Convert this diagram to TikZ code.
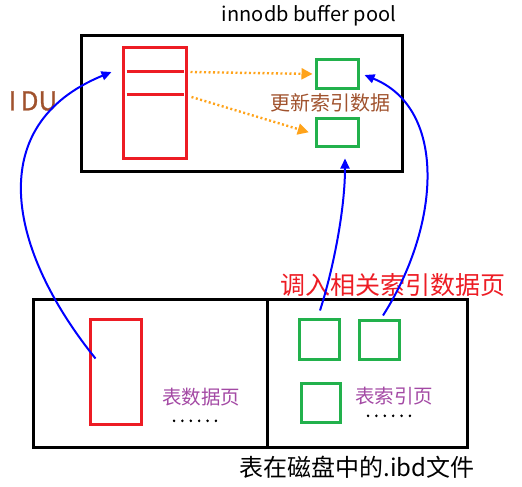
\documentclass[tikz,border=0pt]{standalone}
\usepackage{fontspec}
\setmainfont{Noto Sans CJK SC}
\usetikzlibrary{calc,arrows.meta,positioning}
\definecolor{pagered}{HTML}{ED1C24}
\definecolor{idxgreen}{HTML}{22B14C}
\definecolor{loadblue}{HTML}{0000FF}
\definecolor{updorange}{HTML}{FFA31A}
\definecolor{notebrown}{HTML}{A0522D}
\definecolor{pagepurple}{HTML}{A349A4}
\newcommand{\fsz}[1]{\fontsize{#1}{#1}\selectfont}

\begin{document}
\begin{tikzpicture}[x=1pt,y=-1pt]
\tikzstyle{every node}+=[inner sep=0pt]
\tikzstyle{area}=[draw=black, line width=3pt]
\tikzstyle{datapage}=[draw=pagered, line width=3pt]
\tikzstyle{idxpage}=[draw=idxgreen, line width=3pt]
\tikzstyle{load}=[draw=loadblue, line width=2pt, -{Triangle[length=10pt,width=9pt]}]
\tikzstyle{upd}=[draw=updorange, line width=2.4pt, dash pattern=on 2pt off 2.5pt, -{Triangle[length=11pt,width=11pt]}]
\tikzstyle{more}=[anchor=base, font={\fsz{12}\addfontfeatures{FakeBold=7,LetterSpace=42}}]
    \useasboundingbox (0,0) rectangle (522,487);
    \node [area, minimum width=321pt, minimum height=135pt] (pool) at (241.5,103.5) {};
    \node (poolname) at (309,16) {\fsz{20}innodb buffer pool};
    \node [datapage, minimum width=63pt, minimum height=110pt] (rec) at (154.5,103) {};
    \draw [pagered, line width=3pt] ([shift={(5,25)}]rec.north west) -- ([shift={(-4,25)}]rec.north east);
    \draw [pagered, line width=3pt] ([shift={(5,48)}]rec.north west) -- ([shift={(-4,48)}]rec.north east);
    \node [idxpage, minimum width=42pt, minimum height=28pt] (idxa) at (337,74) {};
    \node [idxpage, minimum width=42pt, minimum height=28pt] (idxb) at (337,132) {};
    \draw [upd, shorten >=2pt] ([shift={(3,-31)}]rec.east) -- (idxa.west);
    \draw [upd, shorten >=6pt] ([shift={(4,-6)}]rec.east) -- ([yshift=-2pt]idxb.west);
    \node [text=notebrown] (updnote) at (330,103) {\fsz{20}更新索引数据};
    \node [text=notebrown] (idu) at (33,101) {\fsz{26}\addfontfeatures{FakeBold=1}I\,DU};
    \node [area, minimum width=234pt, minimum height=148pt] (datapart) at (150,373) {};
    \node [area, minimum width=200pt, minimum height=148pt] (idxpart) at (367,373) {};
    \node [datapage, minimum width=51pt, minimum height=105pt] (drec) at (115.5,371.5) {};
    \node [idxpage, minimum width=40pt, minimum height=40pt] (ga) at (319.5,339) {};
    \node [idxpage, minimum width=40pt, minimum height=39pt] (gb) at (379,339.5) {};
    \node [idxpage, minimum width=39pt, minimum height=39pt] (gc) at (320.5,403) {};
    \node [text=pagepurple] (datanote) at (201,397) {\fsz{19.5}表数据页};
    \node [more] (datadots) at (195,421.5) {......};
    \node [text=pagepurple] (idxnote) at (394,396) {\fsz{19.5}表索引页};
    \node [more] (idxdots) at (389,416.5) {......};
    \node [text=pagered] (loadnote) at (393,285) {\fsz{25}调入相关索引数据页};
    \node (filenote) at (357,467) {\fsz{24}表在磁盘中的.ibd文件};
    \draw [load] ([shift={(7,-13)}]drec.west) .. controls (8,250) and (-18,125) .. ([shift={(-10,-31)}]rec.west);
    \draw [load] ([shift={(0.5,-7)}]ga.north) .. controls (333,270) and (345,210) .. ([shift={(8,11)}]idxb.south);
    \draw [load] ([shift={(4,-3)}]gb.north) .. controls (440,226) and (448,109) .. ([shift={(5,1)}]idxa.east);
\end{tikzpicture}
\end{document}
